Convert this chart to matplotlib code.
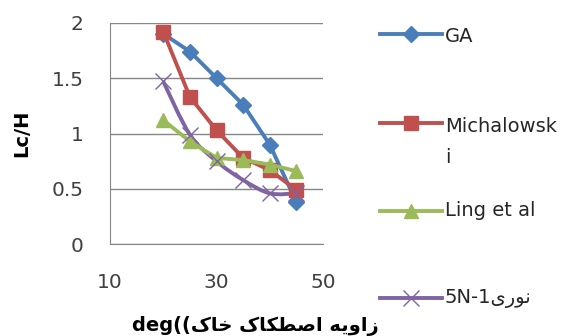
import numpy as np
import matplotlib
matplotlib.use("Agg")
import matplotlib.pyplot as plt
from matplotlib.path import Path
from matplotlib.patches import PathPatch
from matplotlib.lines import Line2D

# friction angle (deg) vs Lc/H
phi = [20, 25, 30, 35, 40, 45]
ga = [1.90, 1.74, 1.50, 1.26, 0.90, 0.38]
michalowski = [1.92, 1.33, 1.03, 0.78, 0.67, 0.49]
ling = [1.12, 0.93, 0.78, 0.76, 0.72, 0.66]
nouri = [1.47, 0.99, 0.75, 0.58, 0.46, 0.46]

labels = ["GA", "Michalowsk\ni", "Ling et al", "5N-1\ufbfc\ufead\ufeee\ufee7"]
# visual order, presentation forms (no shaping in matplotlib)
xlab = "deg((" + "\ufb8e\ufe8e\ufea7 \ufb8e\ufe8e\ufb91\ufec4\ufebb\ufe8d \ufeea\ufbfe\ufeed\ufe8d\ufeaf"

c_blue, c_red, c_green, c_purple = "#4a7ebb", "#c0504d", "#9bbb59", "#8064a2"
plt.rcParams["font.family"] = ["DejaVu Sans"]

W, H = 586, 336
fig = plt.figure(figsize=(W/100, H/100), dpi=100)
ax = fig.add_axes([110/W, 1-244.3/H, 213/W, 221.6/H])
ax.set_xlim(10, 50)
ax.set_ylim(0, 2)
ax.set_xticks([10, 30, 50])
ax.set_yticks([0, 0.5, 1, 1.5, 2])
ax.set_yticklabels(["0", "0.5", "1", "1.5", "2"])
ax.tick_params(length=0, labelsize=14.5, colors="#404040")
ax.tick_params(axis="y", pad=19)
ax.tick_params(axis="x", pad=21)
for s in ["top", "right"]:
    ax.spines[s].set_visible(False)
ax.spines["left"].set_color("#868686")
ax.spines["bottom"].set_color("#868686")
ax.grid(axis="y", color="#868686", lw=1)
ax.set_axisbelow(True)

ax.plot(phi, ga, color=c_blue, lw=2.8, marker="D", ms=8, clip_on=False)
ax.plot(phi, michalowski, color=c_red, lw=2.8, marker="s", ms=10.5, clip_on=False)
ax.plot(phi, ling, color=c_green, lw=2.8, marker="^", ms=10.5, clip_on=False)

# smoothed line for the last series (catmull-rom style bezier)
pts = np.column_stack([phi, nouri])
verts = [pts[0]]
codes = [Path.MOVETO]
for i in range(len(pts)-1):
    p0 = pts[max(i-1, 0)]
    p1, p2 = pts[i], pts[i+1]
    p3 = pts[min(i+2, len(pts)-1)]
    verts += [p1 + (p2-p0)/6, p2 - (p3-p1)/6, p2]
    codes += [Path.CURVE4]*3
ax.add_patch(PathPatch(Path(verts, codes), fill=False, ec=c_purple, lw=2.8, clip_on=False))
ax.plot(phi, nouri, ls="none", marker="x", ms=11, mew=1, color=c_purple, clip_on=False)

ax.set_ylabel("Lc/H", fontsize=14, fontweight="bold")
ax.yaxis.set_label_coords(-0.37, 0.5)
fig.text(255/W, 1-326/H, xlab, fontsize=14, fontweight="bold", ha="center", va="center")

# legend, drawn by hand to keep the wide spacing
styles = [(c_blue, "D", 8, 34), (c_red, "s", 10.5, 123), (c_green, "^", 10.5, 211), (c_purple, "x", 11, 298)]
text_y = [36, 142, 211, 299]
for (c, m, ms, y), lab, ty in zip(styles, labels, text_y):
    fig.add_artist(Line2D([380/W, 442/W], [1-y/H]*2, color=c, lw=2.8,
                          transform=fig.transFigure))
    fig.add_artist(Line2D([411/W], [1-y/H], color=c, marker=m, ms=ms,
                          mew=1, transform=fig.transFigure))
    fig.text(445/W, 1-ty/H, lab, fontsize=14, color="#262626", va="center",
             linespacing=1.75)

fig.savefig("out.png", dpi=100)
